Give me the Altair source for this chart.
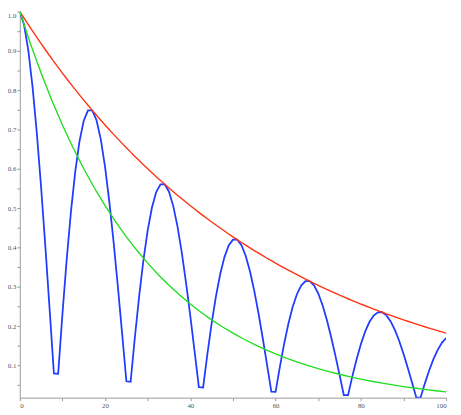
import altair as alt
import pandas as pd

x_int = list(range(101))

blue = [1.000, 0.9664, 0.9013, 0.8079, 0.6904, 0.5535, 0.4025, 0.2430, 0.0805, 0.0792,
        0.2309, 0.3697, 0.4914, 0.5925, 0.6701, 0.7226, 0.7489, 0.7490, 0.7238, 0.6751,
        0.6052, 0.5171, 0.4146, 0.3015, 0.1820, 0.0603, 0.0593, 0.1729, 0.2769, 0.3681,
        0.4438, 0.5019, 0.5412, 0.5609, 0.5610, 0.5422, 0.5056, 0.4533, 0.3873, 0.3105,
        0.2258, 0.1363, 0.0452, 0.0444, 0.1295, 0.2074, 0.2757, 0.3324, 0.3760, 0.4054,
        0.4201, 0.4202, 0.4061, 0.3787, 0.3395, 0.2901, 0.2326, 0.1691, 0.1021, 0.0338,
        0.0333, 0.0970, 0.1554, 0.2065, 0.2490, 0.2816, 0.3036, 0.3147, 0.3147, 0.3042,
        0.2837, 0.2543, 0.2173, 0.1742, 0.1267, 0.0765, 0.0253, 0.0249, 0.0727, 0.1164,
        0.1547, 0.1865, 0.2109, 0.2274, 0.2357, 0.2358, 0.2278, 0.2125, 0.1905, 0.1628,
        0.1305, 0.0949, 0.0573, 0.0190, 0.0187, 0.0544, 0.0872, 0.1158, 0.1397, 0.1580,
        0.1703]

red = [1.0000, 0.9831, 0.9666, 0.9503, 0.9343, 0.9185, 0.9030, 0.8878, 0.8728, 0.8581,
       0.8437, 0.8294, 0.8155, 0.8017, 0.7882, 0.7749, 0.7619, 0.7490, 0.7364, 0.7240,
       0.7118, 0.6998, 0.6880, 0.6764, 0.6650, 0.6538, 0.6428, 0.6319, 0.6213, 0.6108,
       0.6005, 0.5904, 0.5804, 0.5706, 0.5610, 0.5516, 0.5423, 0.5331, 0.5241, 0.5153,
       0.5066, 0.4981, 0.4897, 0.4814, 0.4733, 0.4653, 0.4575, 0.4498, 0.4422, 0.4347,
       0.4274, 0.4202, 0.4131, 0.4062, 0.3993, 0.3926, 0.3860, 0.3795, 0.3731, 0.3668,
       0.3606, 0.3545, 0.3485, 0.3427, 0.3369, 0.3312, 0.3256, 0.3201, 0.3147, 0.3094,
       0.3042, 0.2991, 0.2941, 0.2891, 0.2842, 0.2794, 0.2747, 0.2701, 0.2655, 0.2611,
       0.2567, 0.2523, 0.2481, 0.2439, 0.2398, 0.2358, 0.2318, 0.2279, 0.2240, 0.2203,
       0.2165, 0.2129, 0.2093, 0.2058, 0.2023, 0.1989, 0.1955, 0.1922, 0.1890, 0.1858,
       0.1827]

x_green = [0, 2.5, 5, 7.5, 10, 12.5, 15, 17.5, 20, 22.5, 25, 27.5, 30, 32.5, 35, 37.5,
           40, 42.5, 45, 47.5, 50, 52.5, 55, 57.5, 60, 62.5, 65, 67.5, 70, 72.5, 75,
           77.5, 80, 82.5, 85, 87.5, 90, 92.5, 95, 97.5, 100]
green = [1.0000, 0.9185, 0.8437, 0.7749, 0.7118, 0.6538, 0.6005, 0.5516, 0.5066, 0.4653,
         0.4274, 0.3926, 0.3606, 0.3312, 0.3042, 0.2794, 0.2567, 0.2358, 0.2165, 0.1989,
         0.1827, 0.1678, 0.1541, 0.1416, 0.1300, 0.1194, 0.1097, 0.1008, 0.0926, 0.0850,
         0.0781, 0.0717, 0.0659, 0.0605, 0.0556, 0.0510, 0.0469, 0.0431, 0.0396, 0.0363,
         0.0334]

x_ticks = [0, 10, 20, 30, 40, 50, 60, 70, 80, 90, 100]
y_ticks = [0.05, 0.1, 0.15, 0.2, 0.25, 0.3, 0.35, 0.4, 0.45, 0.5, 0.55, 0.6, 0.65,
           0.7, 0.75, 0.8, 0.85, 0.9, 0.95, 1.0]

df_blue = pd.DataFrame({"x": x_int, "y": blue})
df_red = pd.DataFrame({"x": x_int, "y": red})
df_green = pd.DataFrame({"x": x_green, "y": green})

xscale = alt.Scale(domain=[0, 100], nice=False, zero=False)
yscale = alt.Scale(domain=[0.0187, 1.0], nice=False, zero=False)

xaxis = alt.Axis(values=x_ticks, title=None, grid=False,
                 labelExpr="datum.value % 20 == 0 ? format(datum.value, 'd') : ''")
yaxis = alt.Axis(values=y_ticks, title=None, grid=False, labelFlush=True,
                 labelExpr="round(datum.value * 100) % 10 == 0 ? format(datum.value, '.1f') : ''")


def line(df, color, width):
    return alt.Chart(df).mark_line(color=color, strokeWidth=width, clip=True).encode(
        x=alt.X("x:Q", scale=xscale, axis=xaxis),
        y=alt.Y("y:Q", scale=yscale, axis=yaxis),
    )


chart = alt.layer(
    line(df_blue, "#1f3cff", 1.8),
    line(df_red, "#ff3311", 1.4),
    line(df_green, "#22dd22", 1.4),
).properties(
    width=434, height=393,
    autosize=alt.AutoSizeParams(type="none"),
    padding={"left": 12, "top": 0, "right": 7, "bottom": 14},
).configure_view(stroke=None).configure_axis(
    domainColor="#999999", tickColor="#999999", labelColor="#555555",
    labelFont="Liberation Serif", labelFontSize=7, tickSize=3, labelPadding=1,
    domainWidth=1,
)

chart.save("out.html", embed_options={"renderer": "svg", "actions": False})
